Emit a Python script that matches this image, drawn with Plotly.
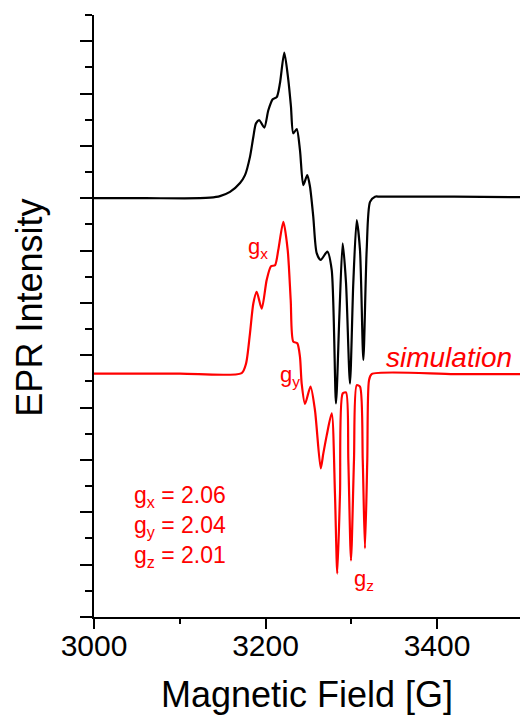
import plotly.graph_objects as go

# Experimental spectrum (black), field in G, intensity in axis units
exp_field = [3000, 3060, 3123.6, 3135.3, 3146.9, 3158.6, 3170.3, 3176.1, 3181.9, 3185.8, 3188.9,
             3192.8, 3198.6, 3203.3, 3208.4, 3213.1, 3216.9, 3221.9, 3226.6, 3229.7, 3232.4,
             3236.4, 3240.2, 3244.1, 3248.7, 3251.9, 3255.7, 3259.7, 3264.4, 3272.1, 3277.2,
             3282.2, 3286.1, 3290.0, 3293.9, 3298.5, 3302.4, 3306.4, 3310.2, 3314.1, 3318.0,
             3321.9, 3327.7, 3333.5, 3420, 3500]
exp_int = [8.0, 8.0, 8.0, 8.01, 8.04, 8.12, 8.29, 8.44, 8.79, 9.17, 9.43,
           9.49, 9.35, 9.68, 9.89, 9.93, 10.2, 10.78, 10.26, 9.75, 9.24,
           9.32, 8.92, 8.25, 8.44, 8.22, 7.65, 6.95, 6.82, 6.98, 6.63,
           4.08, 5.73, 7.14, 6.38, 4.46, 6.38, 7.58, 7.01, 4.91, 7.01,
           7.93, 8.03, 8.03, 8.03, 8.02]

# Simulated spectrum (red)
sim_field = [3000, 3100, 3172.2, 3177.3, 3181.9, 3185.8, 3189.7, 3195.6, 3201.4, 3206.4, 3211.1,
             3214.9, 3220.8, 3225.9, 3229.4, 3232.4, 3237.1, 3240.2, 3242.2, 3246.1, 3252.5,
             3257.7, 3264.4, 3267.4, 3271.4, 3277.2, 3281.0, 3283.7, 3286.9, 3290.0, 3293.9,
             3296.6, 3299.7, 3303.2, 3306.4, 3310.2, 3313.4, 3316.0, 3318.7, 3320.7, 3323.8,
             3420, 3500]
sim_int = [4.65, 4.65, 4.66, 4.84, 5.42, 5.99, 6.21, 5.89, 6.44, 6.70, 6.72,
           7.01, 7.55, 7.01, 6.05, 5.26, 5.23, 4.97, 4.46, 4.07, 4.40,
           3.95, 2.84, 3.12, 3.47, 3.89, 2.36, 0.83, 2.36, 4.27, 4.29,
           3.0, 1.08, 3.0, 4.43, 4.40, 3.0, 1.31, 3.0, 4.52, 4.64,
           4.64, 4.64]

x_tick_vals = [3000, 3200, 3400]
x_tick_text = ["3000", "3200", "3400"]
g_labels = ["g<sub>x</sub> = 2.06", "g<sub>y</sub> = 2.04", "g<sub>z</sub> = 2.01"]

FONT = "Arial, Liberation Sans, sans-serif"
RED = "#ff0000"

fig = go.Figure()
fig.add_trace(go.Scatter(x=exp_field, y=exp_int, mode="lines",
                         line=dict(color="black", width=2.2, shape="spline", smoothing=0.7),
                         showlegend=False, hoverinfo="skip"))
fig.add_trace(go.Scatter(x=sim_field, y=sim_int, mode="lines",
                         line=dict(color=RED, width=2.2, shape="spline", smoothing=0.7),
                         showlegend=False, hoverinfo="skip"))

# Field-component labels on the simulation
peak_labels = [("g<sub>x</sub>", 3191, 7.05), ("g<sub>y</sub>", 3228, 4.6), ("g<sub>z</sub>", 3315, 0.7)]
for txt, xx, yy in peak_labels:
    fig.add_annotation(x=xx, y=yy, text=txt, showarrow=False,
                       font=dict(family=FONT, size=22, color=RED))

fig.add_annotation(x=3490, y=4.65, text="<i>simulation</i>", showarrow=False,
                   xanchor="right", yanchor="bottom", yshift=-1,
                   font=dict(family=FONT, size=28, color=RED))

for i, t in enumerate(g_labels):
    fig.add_annotation(x=3100, y=2.3 - i * 0.573, text=t, showarrow=False,
                       font=dict(family=FONT, size=23, color=RED))

# y-axis title placed as rotated text left of the axis
fig.add_annotation(xref="paper", yref="paper", x=(30 - 94) / 426, y=(616.7 - 307.5) / 601.7,
                   text="EPR Intensity", textangle=-90, showarrow=False,
                   xanchor="center", yanchor="middle",
                   font=dict(family=FONT, size=36, color="black"))

fig.update_layout(
    width=520, height=715,
    margin=dict(l=94, r=0, t=15, b=98),
    paper_bgcolor="white", plot_bgcolor="white",
    font=dict(family=FONT, color="black"),
    xaxis=dict(range=[3000, 3496.8], showgrid=False, zeroline=False,
               showline=True, linecolor="black", linewidth=2,
               ticks="outside", ticklen=10, tickwidth=2, tickcolor="black",
               tickvals=x_tick_vals, ticktext=x_tick_text, ticklabelstandoff=-9,
               tickfont=dict(size=30, family=FONT),
               minor=dict(ticks="outside", ticklen=5, tickwidth=2, tickcolor="black", dtick=100),
               title=dict(text="Magnetic Field [G]", font=dict(size=36, family=FONT), standoff=29)),
    yaxis=dict(range=[0, 11.5], showgrid=False, zeroline=False,
               showline=True, linecolor="black", linewidth=2,
               ticks="outside", ticklen=12, tickwidth=2, tickcolor="black",
               dtick=1, tick0=0, showticklabels=False,
               minor=dict(ticks="outside", ticklen=7, tickwidth=2, tickcolor="black", dtick=0.5)),
)

fig.write_html("out.html")
